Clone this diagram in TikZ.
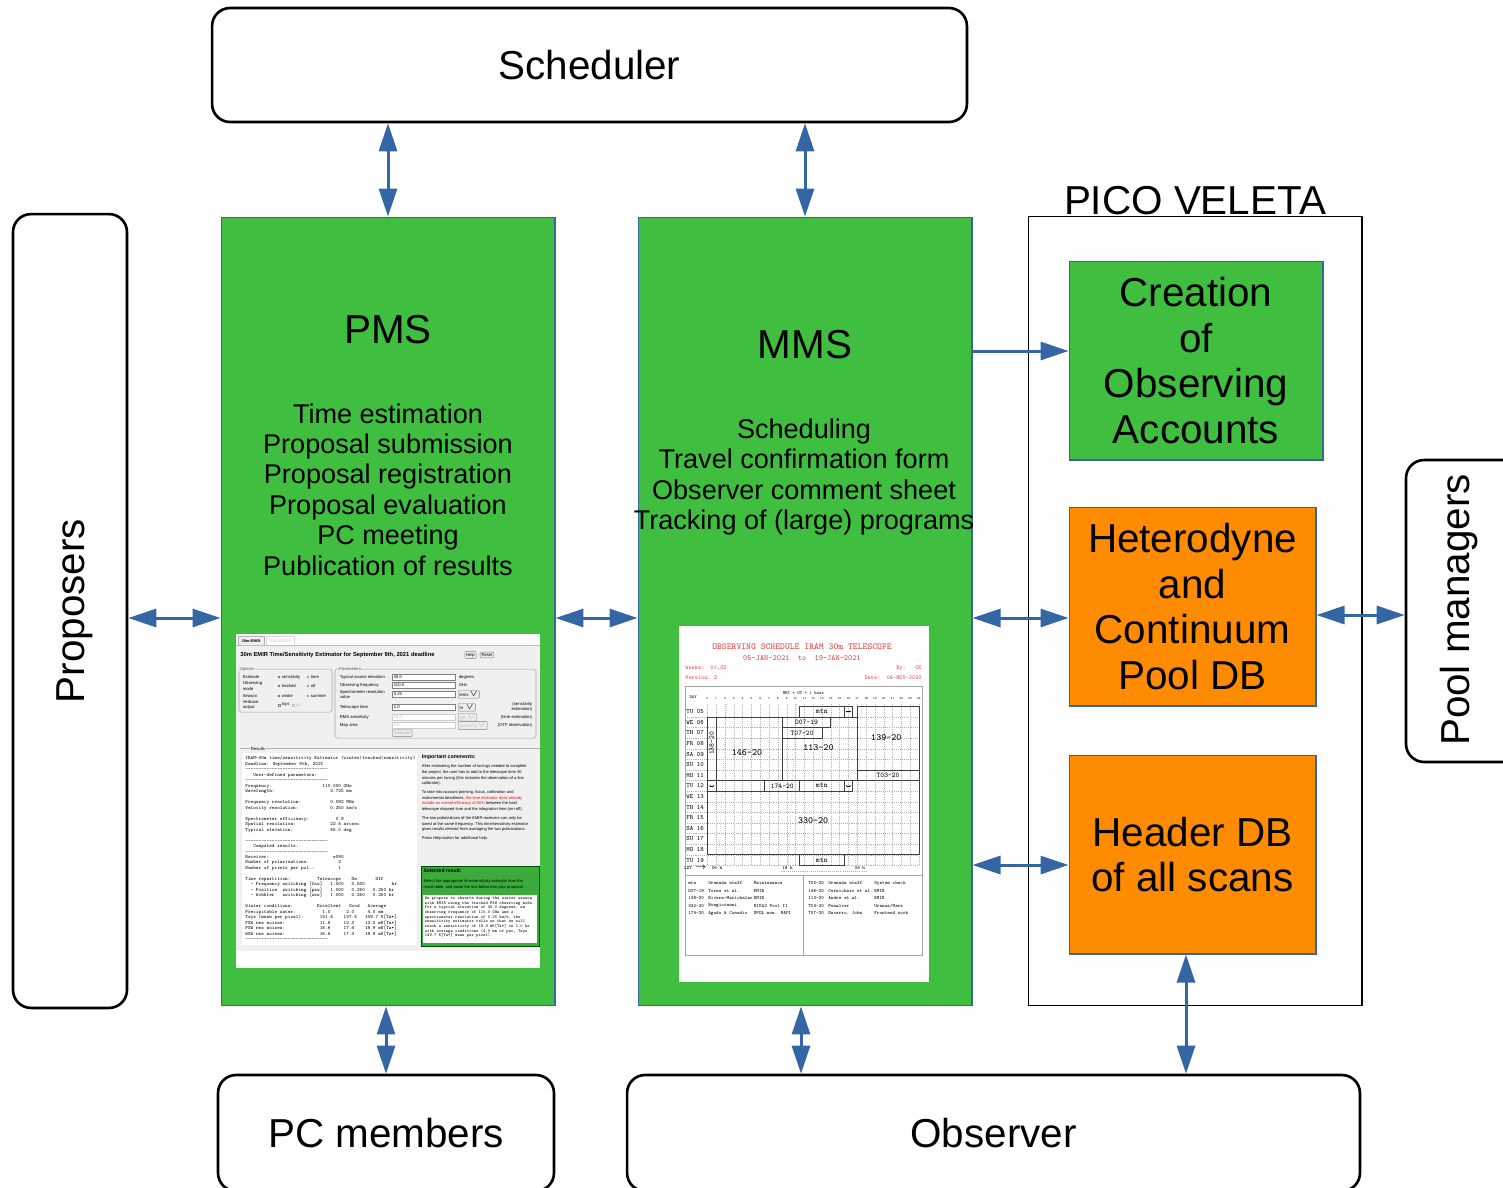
\documentclass[tikz,border=0pt]{standalone}
\usepackage{fontspec}
\setmainfont{Liberation Sans}
\usetikzlibrary{arrows.meta}

\definecolor{boxgreen}{RGB}{64,190,64}
\definecolor{dborange}{RGB}{255,140,0}
\definecolor{linkblue}{RGB}{52,101,164}
\definecolor{schedred}{RGB}{232,64,64}
\definecolor{panelgray}{RGB}{240,240,240}
\definecolor{selgreen}{RGB}{58,170,58}

\newcommand{\bigtxt}{\fontsize{23}{25.9}\selectfont}
\newcommand{\listtxt}{\fontsize{15.4}{17.3}\selectfont}
\newcommand{\tinytxt}{\fontsize{2.4}{2.9}\selectfont}
\newcommand{\dsh}{-\kern0pt}
\newcommand{\dashrun}{\dsh\dsh\dsh\dsh\dsh\dsh\dsh\dsh\dsh\dsh\dsh\dsh\dsh\dsh\dsh\dsh\dsh\dsh\dsh\dsh\dsh\dsh\dsh\dsh\dsh\dsh\dsh\dsh\dsh\dsh\dsh}

\begin{document}
\begin{tikzpicture}[x=0.02cm,y=-0.02cm,
    actor/.style={draw,line width=1.5pt,rounded corners=0.36cm,font=\bigtxt},
    sysbox/.style={draw=linkblue,line width=0.6pt,fill=boxgreen},
    dbbox/.style={draw=linkblue,line width=0.6pt,fill=dborange,align=center,font=\bigtxt,
      minimum width=4.94cm,minimum height=3.98cm},
    link/.style={linkblue,line width=1.7pt,
      {Triangle[length=0.56cm,width=0.36cm]}-{Triangle[length=0.56cm,width=0.36cm]}},
    oneway/.style={linkblue,line width=1.7pt,-{Triangle[length=0.56cm,width=0.36cm]}},
    shottxt/.style={font=\tinytxt,inner sep=0.3pt},
    field/.style={draw=gray,fill=white,line width=0.2pt},
    btn/.style={draw=gray,fill=gray!15,line width=0.2pt,rounded corners=0.5pt,font=\tinytxt,inner sep=0.8pt},
    blk/.style={draw=black!75,line width=0.5pt},
    grid line/.style={gray!60,dash pattern=on 0.6pt off 0.6pt,line width=0.2pt},
  ]
\useasboundingbox (0,0) rectangle (1503,1187);
\clip (0,0) rectangle (1503,1187);

\node[actor,minimum width=15.1cm,minimum height=2.28cm] (sched) at (589.5,65) {Scheduler};
\node[actor,minimum width=2.28cm,minimum height=15.88cm] (prop) at (70,611) {};
\node[rotate=90,font=\bigtxt] (proptext) at (75,611) {Proposers};
\node[actor,minimum width=2.36cm,minimum height=6.04cm] (pool) at (1465,611) {};
\node[rotate=90,font=\bigtxt] (pooltext) at (1459,610) {Pool managers};
\node[actor,minimum width=6.72cm,minimum height=2.32cm] (pcm) at (386,1133) {PC members};
\node[actor,minimum width=14.66cm,minimum height=2.32cm] (obs) at (993.5,1133) {Observer};

\node[sysbox,minimum width=6.68cm,minimum height=15.78cm] (pms) at (388,611.5) {};
\node[sysbox,minimum width=6.68cm,minimum height=15.78cm] (mms) at (805,611.5) {};
\node[draw,line width=0.6pt,minimum width=6.68cm,minimum height=15.8cm] (pico) at (1195,611) {};
\node[font=\bigtxt,anchor=base] (picolbl) at (1195,214) {PICO VELETA};
\node[sysbox,align=center,font=\bigtxt,minimum width=5.08cm,minimum height=3.98cm] (accounts) at (1196,360.5) {Creation\\of\\Observing\\Accounts};
\node[dbbox] (hetero) at (1192.5,606.5) {Heterodyne\\and\\Continuum\\Pool DB};
\node[dbbox] (hdrdb) at (1192.5,854.5) {Header DB\\of all scans};

\node[font=\bigtxt] (pmsname) at (388,330) {PMS};
\node[font=\listtxt,align=center] (pmsjobs) at (388,489.5) {Time estimation\\Proposal submission\\Proposal registration\\Proposal evaluation\\PC meeting\\Publication of results};
\node[font=\bigtxt] (mmsname) at (805,345) {MMS};
\node[font=\listtxt,align=center] (mmsjobs) at (804,477) {Scheduling\\Travel confirmation form\\Observer comment sheet\\Tracking of (large) programs};

% PMS screenshot
\fill[white] (236,634) rectangle (540,968);
\fill[panelgray] (236,645) rectangle (540,951);
\draw[gray!60,fill=panelgray,line width=0.3pt] (238,645) -- (238,636.5) -- (264,636.5) -- (264,645);
\node[shottxt,font=\fontsize{2.2}{2.5}\selectfont\bfseries] (tabemir) at (251,641) {30m-EMIR};
\draw[gray!30,line width=0.3pt] (266,645) -- (266,636.5) -- (294,636.5) -- (294,645);
\node[shottxt,text=gray!40] (tabhera) at (280,641) {30m-HERA};
\draw[gray!50,line width=0.3pt] (236,645) -- (540,645);
\node[anchor=west,inner sep=0,font=\fontsize{3.3}{4}\selectfont\bfseries] (esttitle) at (240,655) {30m EMIR Time/Sensitivity Estimator for September 9th, 2021 deadline};
\node[btn] (helpbtn) at (470.5,655) {Help};
\node[btn] (resetbtn) at (487,655) {Reset};

\draw[gray!70,rounded corners=1pt,line width=0.3pt] (239,669) rectangle (332,712);
\node[shottxt,fill=panelgray,text=boxgreen!60!black] (optlbl) at (247,669) {Options};
\node[shottxt,anchor=west] (opt1) at (242,677) {Estimate};
\node[shottxt,anchor=west,align=left] (opt2) at (242,686) {Observing\\mode};
\node[shottxt,anchor=west] (opt3) at (242,696) {Season};
\node[shottxt,anchor=west,align=left] (opt4) at (242,705) {Verbose\\output};
\foreach \yy/\aa/\bb in {677/sensitivity/time,686/tracked/otf,696/winter/summer}{
  \filldraw[draw=gray,fill=linkblue,line width=0.2pt] (279,\yy) circle (1.2);
  \node[shottxt,anchor=west] (ra\yy) at (281,\yy) {\aa};
  \draw[gray,fill=white,line width=0.2pt] (308,\yy) circle (1.2);
  \node[shottxt,anchor=west] (rb\yy) at (310,\yy) {\bb};
}
\draw[field] (278,704) rectangle (280.4,706.4);
\node[shottxt,anchor=west] (chk1) at (281,705) {tsys};
\draw[field,draw=gray!50] (292,704) rectangle (294.4,706.4);
\node[shottxt,anchor=west,text=gray!50] (chk2) at (295,705) {otf};

\draw[gray!70,rounded corners=1pt,line width=0.3pt] (335,669) rectangle (536,738);
\node[shottxt,fill=panelgray,text=boxgreen!60!black] (parlbl) at (350,669) {Parameters};
\foreach \yy/\lab/\val/\unit in {677/Typical source elevation/45.0/degrees,685/Observing frequency/110.0/GHz}{
  \node[shottxt,anchor=west] (pl\yy) at (339,\yy) {\lab};
  \draw[field] (392,\yy-3.2) rectangle (455,\yy+3.2);
  \node[shottxt,anchor=west] (pv\yy) at (393,\yy) {\val};
  \node[shottxt,anchor=west] (pu\yy) at (458,\yy) {\unit};
}
\node[shottxt,anchor=west,align=left] (pl694) at (339,694.5) {Spectrometer resolution\\value};
\draw[field] (392,691) rectangle (455,697.5);
\node[shottxt,anchor=west] (pv694) at (393,694.3) {0.25};
\node[btn,anchor=west] (pu694) at (458,694.3) {km/s $\vee$};
\node[shottxt,anchor=west] (pl707) at (339,707) {Telescope time};
\draw[field] (392,704) rectangle (455,710.5);
\node[shottxt,anchor=west] (pv707) at (393,707.3) {1.0};
\node[btn,anchor=west] (pu707) at (458,707.3) {hr~~$\vee$};
\node[shottxt,anchor=east,align=right] (pn707) at (533,707) {(sensitivity\\estimation)};
\node[shottxt,anchor=west] (pl717) at (339,717) {RMS sensitivity};
\draw[field,draw=gray!40] (392,714) rectangle (455,720.5);
\node[shottxt,anchor=west,text=gray!50] (pv717) at (393,717.3) {10.0};
\node[btn,anchor=west,text=gray!50] (pu717) at (458,717.3) {mK~$\vee$};
\node[shottxt,anchor=east] (pn717) at (533,717.3) {(time estimation)};
\node[shottxt,anchor=west] (pl725) at (339,725.3) {Map area};
\draw[field,draw=gray!40] (392,722.3) rectangle (455,728.6);
\node[shottxt,anchor=west,text=gray!50] (pv725) at (393,725.5) {9.0};
\node[btn,anchor=west,text=gray!50] (pu725) at (458,725.5) {arcmin\textasciicircum2~$\vee$};
\node[shottxt,anchor=east] (pn725) at (533,725.5) {(OTF observation)};
\node[btn,anchor=west,text=gray!60] (compbtn) at (392,733) {Compute};

\draw[gray!60,line width=0.3pt] (240,748.5) -- (540,748.5);
\node[shottxt,fill=panelgray] (reslbl) at (258,748.5) {Results};
\fill[white] (242,753) rectangle (417,945);
\node[anchor=north west,inner sep=0,align=left,font=\fontsize{2.85}{3.12}\ttfamily] (restext) at (245,756) {%
IRAM-30m time/sensitivity Estimator (winter|tracked|sensitivity)\\
Deadline: September 9th, 2021\\
\dashrun\\
~~~User-defined parameters:\\
\dashrun\\
Frequency:~~~~~~~~~~~~~~~~~~~110.000 GHz\\
Wavelength:~~~~~~~~~~~~~~~~~~~~~2.725 mm\\
~\\
Frequency resolution:~~~~~~~~~~~0.092 MHz\\
Velocity resolution:~~~~~~~~~~~~0.250 km/s\\
~\\
Spectrometer efficiency:~~~~~~~~~~0.9\\
Spatial resolution:~~~~~~~~~~~~~22.4 arcsec\\
Typical elevation:~~~~~~~~~~~~~~45.0 deg\\
~\\
\dashrun\\
~~~Computed results:\\
\dashrun\\
Receiver:~~~~~~~~~~~~~~~~~~~~~~~~e090\\
Number of polarizations:~~~~~~~~~~~2\\
Number of pixels per pol.:~~~~~~~~~1\\
~\\
Time repartition:~~~~~~~~~~Telescope~~~~On~~~~~~~Off\\
~~- Frequency switching [fsw]~~~1.000~~~0.500~~~~~~~~~~hr\\
~~- Position~~switching [psw]~~~1.000~~~0.250~~~0.250 hr\\
~~- Wobbler~~~switching [wsw]~~~1.000~~~0.250~~~0.250 hr\\
~\\
Winter conditions:~~~~~~~~~Excellent~~~Good~~~Average\\
Precipitable water:~~~~~~~~~~1.0~~~~~~2.0~~~~~4.0 mm\\
Tsys (mean per pixel):~~~~~~131.4~~~~137.4~~~149.7 K[Ta*]\\
FSW rms noises:~~~~~~~~~~~~~11.8~~~~~12.3~~~~13.0 mK[Ta*]\\
PSW rms noises:~~~~~~~~~~~~~16.6~~~~~17.4~~~~18.9 mK[Ta*]\\
WSW rms noises:~~~~~~~~~~~~~16.6~~~~~17.4~~~~18.9 mK[Ta*]\\
\dashrun};

\node[anchor=north west,inner sep=0,font=\fontsize{3}{3.4}\selectfont\bfseries] (imphead) at (421.5,754.5) {Important comments:};
\node[anchor=north west,inner sep=0,align=left,font=\fontsize{2.3}{3.2}\selectfont] (imptext) at (421.5,764.5) {%
After estimating the number of tunings needed to complete\\
the project, the user has to add to the telescope time 30\\
minutes per tuning (this includes the observation of a line\\
calibrator).\\[1.9pt]
To take into account pointing, focus, calibration and\\
instrumental deadtimes, \textcolor{red}{the time estimator does already}\\
\textcolor{red}{include an overall efficiency of 50\%} between the total\\
telescope elapsed time and the integration time (on+off).\\[1.9pt]
The two polarizations of the EMIR receivers can only be\\
tuned at the same frequency. This time/sensitivity estimator\\
gives results derived from averaging the two polarizations.\\[1.9pt]
Press Help button for additional help.};

\filldraw[draw=green!30!black,fill=selgreen,line width=0.4pt] (421,866) rectangle (539,946);
\node[anchor=north west,inner sep=0,font=\fontsize{2.9}{3.3}\selectfont\bfseries] (selhead) at (423.3,868.5) {Selected result:};
\node[anchor=north west,inner sep=0,align=left,font=\fontsize{2.3}{3.2}\selectfont] (seltext) at (423.3,879.3) {%
Select the appropriate time/sensitivity estimate from the\\
result table, and paste the text below into your proposal.};
\fill[white] (423,895) rectangle (537,943);
\node[anchor=north west,inner sep=0,align=left,font=\fontsize{2.5}{2.65}\ttfamily] (seltext2) at (424.5,896.5) {%
We propose to observe during the winter season\\
with EMIR using the tracked PSW observing mode.\\
For a typical elevation of 45.0 degrees, an\\
observing frequency of 110.0 GHz and a\\
spectrometer resolution of 0.25 km/s, the\\
sensitivity estimator tells us that we will\\
reach a sensitivity of 18.9 mK[Ta*] in 1.0 hr\\
with average conditions (4.0 mm of pwv, Tsys\\
149.7 K[Ta*] mean per pixel).};

% MMS screenshot
\fill[white] (679,626) rectangle (929,982);
\node[text=schedred,inner sep=0,font=\fontsize{5.2}{6}\ttfamily] (schtitle) at (802,647) {OBSERVING SCHEDULE IRAM 30m TELESCOPE};
\node[text=schedred,inner sep=0,font=\fontsize{4.5}{5}\ttfamily] (schdates) at (802,658.5) {05-JAN-2021~~to~~19-JAN-2021};
\node[text=schedred,inner sep=0,anchor=west,font=\fontsize{3.4}{4}\ttfamily] (schweeks) at (685,668) {Weeks:~~01,02};
\node[text=schedred,inner sep=0,anchor=west,font=\fontsize{3.4}{4}\ttfamily] (schvers) at (685,678) {Version:~2};
\node[text=schedred,inner sep=0,anchor=east,font=\fontsize{3.4}{4}\ttfamily] (schby) at (922,668) {By:~~~CK};
\node[text=schedred,inner sep=0,anchor=east,font=\fontsize{3.4}{4}\ttfamily] (schdate) at (922,678) {Date:~~04-NOV-2020};
\draw[gray!70,line width=0.5pt] (685,686) rectangle (922,955);
\draw[gray!70,line width=0.5pt] (685,875) -- (922,875);
\draw[gray!70,line width=0.5pt] (803,875) -- (803,955);

\begin{scope}[shift={(707.3,706.4)},x=0.1764cm,y=-0.212cm]
  \foreach \h in {0,...,24}{
    \draw[grid line] (\h,-0.25) -- (\h,15);
    \node[inner sep=0,font=\fontsize{1.9}{2}\ttfamily] (hr\h) at (\h,-0.72) {\h};
  }
  \foreach \r in {1,...,15}
    \draw[grid line] (-2.3,\r) -- (24,\r);
  \foreach \d [count=\k from 0] in {TU 05,WE 06,TH 07,FR 08,SA 09,SU 10,MO 11,TU 12,WE 13,TH 14,FR 15,SA 16,SU 17,MO 18,TU 19}
    \node[anchor=west,inner sep=0,font=\fontsize{3.7}{4}\ttfamily] (day\k) at (-2.4,\k+0.5) {\d};
  \node[inner sep=0,font=\fontsize{2.6}{3}\ttfamily] (dayhead) at (-1.6,-0.9) {DAY};
  \node[inner sep=0,font=\fontsize{2.6}{3}\ttfamily] (methead) at (10.9,-1.27) {MET = UT + 1 hour};
  \draw[grid line] (2.2,-0.25) -- (1.25,15);
  \draw[grid line] (10.1,-0.25) -- (9.2,15);
  \draw[grid line] (17.5,-0.25) -- (16.8,15);
  \draw[grid line] (8.4,15.55) -- (18.2,15.55);
  \node[inner sep=0,font=\fontsize{2.8}{3}\ttfamily] (lst) at (-1.33,15.25) {LST $\rightarrow$};
  \node[inner sep=0,font=\fontsize{2.8}{3}\ttfamily] (lst1) at (1.1,15.25) {06 h};
  \node[inner sep=0,font=\fontsize{2.8}{3}\ttfamily] (lst2) at (9.1,15.25) {18 h};
  \node[inner sep=0,font=\fontsize{2.8}{3}\ttfamily] (lst3) at (17.3,15.25) {06 h};
  \draw[blk] (0,1) rectangle (17,7);
  \draw[blk] (0,1) rectangle (1,7);
  \draw[blk] (8.5,1) -- (8.5,7);
  \draw[blk] (1,7) -- (1,8);
  \draw[blk] (10.5,0) rectangle (15.5,1);
  \draw[blk] (15.5,0) rectangle (16.5,1);
  \draw[blk] (17,0) rectangle (24,7);
  \draw[blk] (17,6) -- (24,6);
  \draw[blk] (8.5,1) rectangle (14,2);
  \draw[blk] (8.5,2) rectangle (13,3);
  \draw[blk] (0,7) rectangle (24,14);
  \draw[blk] (0,8) -- (16.5,8);
  \draw[blk] (6.5,7) rectangle (10.5,8);
  \draw[blk] (10.5,7) rectangle (15.5,8);
  \draw[blk] (15.5,7) rectangle (16.5,8);
  \draw[blk] (10.5,14) rectangle (15.5,15);
  \foreach \xa/\ya in {15.5/0.5,0/7.5,15.5/7.5}
    \draw[line width=0.3pt,{Latex[length=1pt]}-{Latex[length=1pt]}] (\xa+0.15,\ya) -- (\xa+0.85,\ya);
  \node[inner sep=0,font=\fontsize{4.3}{5}\ttfamily] (b1) at (13,0.5) {mtn};
  \node[inner sep=0,font=\fontsize{4.1}{5}\ttfamily] (b2) at (11.25,1.5) {D07-19};
  \node[inner sep=0,font=\fontsize{4.1}{5}\ttfamily] (b3) at (10.75,2.5) {T07-20};
  \node[inner sep=0,font=\fontsize{5.4}{6}\ttfamily] (b4) at (4.5,4.4) {146-20};
  \node[inner sep=0,font=\fontsize{5.4}{6}\ttfamily] (b5) at (12.6,3.9) {113-20};
  \node[inner sep=0,font=\fontsize{5.4}{6}\ttfamily] (b6) at (20.3,2.9) {139-20};
  \node[inner sep=0,font=\fontsize{4.1}{5}\ttfamily,rotate=90] (b7) at (0.5,3.5) {138-20};
  \node[inner sep=0,font=\fontsize{4.1}{5}\ttfamily] (b8) at (20.5,6.5) {T03-20};
  \node[inner sep=0,font=\fontsize{4.1}{5}\ttfamily] (b9) at (8.5,7.5) {174-20};
  \node[inner sep=0,font=\fontsize{4.3}{5}\ttfamily] (b10) at (13,7.5) {mtn};
  \node[inner sep=0,font=\fontsize{5.4}{6}\ttfamily] (b11) at (12,10.8) {330-20};
  \node[inner sep=0,font=\fontsize{4.3}{5}\ttfamily] (b12) at (13,14.5) {mtn};
\end{scope}

\foreach \ca/\cb/\cc [count=\i from 0] in {mtn/Granada staff/Maintenance,D07-19/Torne et al./EMIR,138-20/Rivera-Marichalar/EMIR,330-20/Bongiovanni/NIKA2 Pool II,174-20/Agudo \& Conedio/XPOL mon. MAPI}{
  \node[anchor=west,inner sep=0,font=\fontsize{2.8}{3}\ttfamily] (la\i) at (688,883.3+\i*7.5) {\ca};
  \node[anchor=west,inner sep=0,font=\fontsize{2.8}{3}\ttfamily] (lb\i) at (708,883.3+\i*7.5) {\cb};
  \node[anchor=west,inner sep=0,font=\fontsize{2.8}{3}\ttfamily] (lc\i) at (753.5,883.3+\i*7.5) {\cc};
}
\foreach \ca/\cb/\cc [count=\i from 0] in {T00-20/Granada staff/System check,146-20/Cernicharo et al./EMIR,113-20/Andre et al./EMIR,T03-20/Penalver/{Uranus/Mars},T07-20/{Navarro, John}/Frontend work}{
  \node[anchor=west,inner sep=0,font=\fontsize{2.8}{3}\ttfamily] (ra\i) at (808,883.3+\i*7.5) {\ca};
  \node[anchor=west,inner sep=0,font=\fontsize{2.8}{3}\ttfamily] (rb\i) at (828,883.3+\i*7.5) {\cb};
  \node[anchor=west,inner sep=0,font=\fontsize{2.8}{3}\ttfamily] (rc\i) at (874,883.3+\i*7.5) {\cc};
}

\coordinate (lane0) at (0,351);
\coordinate (lane1) at (0,618);
\coordinate (lane2) at (0,615);
\coordinate (lane3) at (0,865);
\coordinate (col1) at (801,0);
\coordinate (col2) at (1186,0);

\draw[link] (sched.south -| pms.north) -- (pms.north);
\draw[link] (sched.south -| mms.north) -- (mms.north);
\draw[link] (prop.east |- lane1) -- (pms.west |- lane1);
\draw[link] (pms.east |- lane1) -- (mms.west |- lane1);
\draw[oneway] (mms.east |- lane0) -- (accounts.west |- lane0);
\draw[link] (mms.east |- lane1) -- (hetero.west |- lane1);
\draw[link] (mms.east |- lane3) -- (hdrdb.west |- lane3);
\draw[link] (hetero.east |- lane2) -- (pool.west |- lane2);
\draw[link] (pcm.north |- pms.south) -- (pcm.north);
\draw[link] (mms.south -| col1) -- (obs.north -| col1);
\draw[link] (hdrdb.south -| col2) -- (obs.north -| col2);
\end{tikzpicture}
\end{document}
